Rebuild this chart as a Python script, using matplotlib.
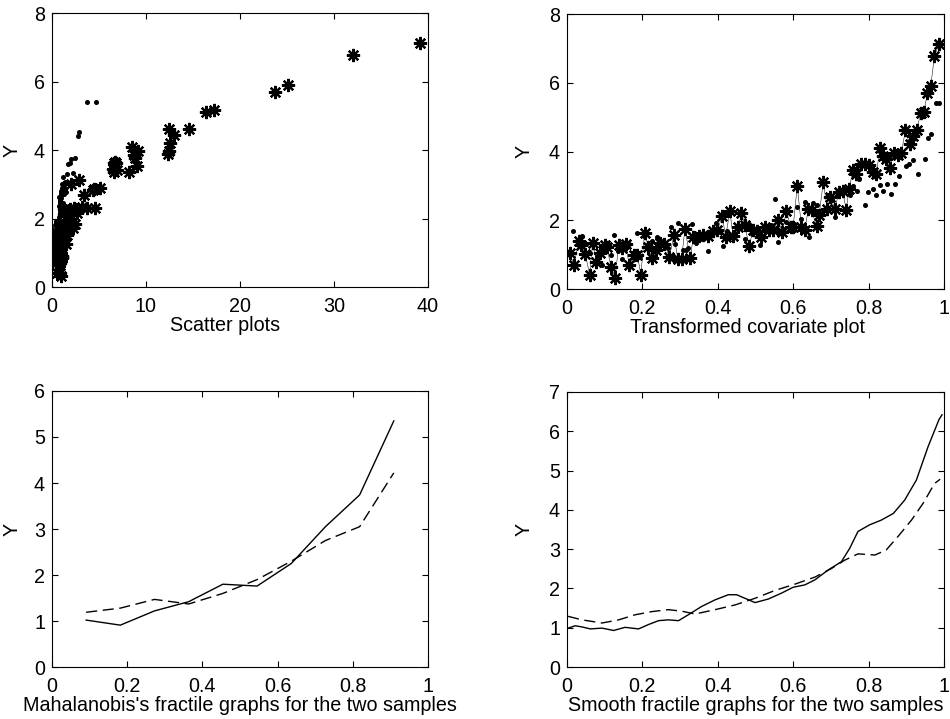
import matplotlib
matplotlib.use("Agg")
import matplotlib.pyplot as plt

plt.rcParams['font.family'] = ['Liberation Sans', 'DejaVu Sans']

# ---- sample 1 (stars): transformed covariate U, response Y, original covariate X
star_u = [0.007,0.019,0.031,0.038,0.049,0.060,0.068,0.078,0.088,0.100,
          0.106,0.117,0.128,0.137,0.146,0.156,0.165,0.179,0.187,0.196,
          0.206,0.216,0.225,0.236,0.247,0.258,0.272,0.284,0.294,0.304,
          0.313,0.327,0.335,0.350,0.362,0.375,0.388,0.399,0.412,0.421,
          0.432,0.441,0.455,0.463,0.472,0.483,0.494,0.505,0.515,0.525,
          0.536,0.547,0.560,0.571,0.582,0.594,0.600,0.611,0.622,0.631,
          0.640,0.649,0.662,0.669,0.680,0.690,0.699,0.711,0.721,0.731,
          0.741,0.748,0.759,0.768,0.781,0.790,0.801,0.812,0.821,0.830,
          0.839,0.847,0.856,0.868,0.878,0.887,0.898,0.909,0.918,0.928,
          0.938,0.947,0.956,0.965,0.975,0.987]
star_y = [1.06,0.69,1.40,1.27,1.01,0.42,1.35,0.79,1.06,1.29,
          1.22,0.64,0.33,1.29,1.20,1.32,0.69,0.98,1.00,0.40,
          1.64,1.22,0.90,1.15,1.34,1.32,0.94,1.58,0.86,0.88,
          1.75,0.90,1.51,1.55,1.56,1.53,1.69,1.71,2.12,1.51,
          2.27,1.53,1.81,2.22,1.85,1.25,1.71,1.68,1.51,1.81,
          1.71,1.71,2.00,1.66,2.27,1.81,1.81,3.00,1.81,1.71,
          2.32,2.29,1.83,2.15,3.12,2.34,2.68,2.32,2.83,2.85,
          2.31,2.90,3.46,3.36,3.63,3.65,3.62,3.41,3.36,4.09,
          3.86,3.77,3.52,3.96,3.89,3.96,4.62,4.21,4.45,4.62,
          5.11,5.16,5.69,5.91,6.78,7.12]
star_x = [0.32,0.38,0.45,0.47,0.52,0.55,0.57,0.61,0.63,0.66,
          0.67,0.71,0.98,0.74,0.77,0.79,0.81,0.83,0.85,0.86,
          0.89,0.91,0.93,0.95,0.96,0.99,1.01,1.03,1.05,1.07,
          1.09,1.11,1.13,1.15,1.17,1.19,1.21,1.24,1.27,1.29,
          1.31,1.34,1.37,1.41,1.45,1.49,1.53,1.57,1.61,1.66,
          1.71,1.76,1.81,1.86,1.91,1.96,2.02,2.07,2.13,2.21,
          2.3,2.4,2.5,2.7,2.9,3.2,3.4,3.7,4.4,4.5,
          4.6,5.1,6.5,6.6,6.6,6.7,6.8,6.9,8.2,8.5,
          8.7,8.8,9.0,9.2,12.3,12.4,12.4,12.6,13.0,14.6,
          16.4,17.2,23.7,25.1,32.0,39.2]

# ---- sample 2 (dots)
dot_u = [0.017,0.028,0.039,0.050,0.062,0.070,0.080,0.092,0.100,0.108,
         0.116,0.125,0.135,0.145,0.155,0.165,0.175,0.185,0.195,0.205,
         0.215,0.225,0.238,0.247,0.258,0.267,0.276,0.286,0.295,0.307,
         0.315,0.322,0.333,0.342,0.352,0.362,0.375,0.385,0.395,0.405,
         0.413,0.425,0.435,0.445,0.455,0.463,0.472,0.482,0.492,0.502,
         0.512,0.522,0.532,0.542,0.552,0.561,0.572,0.582,0.592,0.602,
         0.611,0.621,0.631,0.642,0.652,0.662,0.672,0.682,0.692,0.702,
         0.711,0.720,0.730,0.740,0.750,0.760,0.770,0.775,0.790,0.799,
         0.811,0.820,0.830,0.839,0.850,0.859,0.870,0.881,0.899,0.908,
         0.919,0.930,0.950,0.958,0.966,0.979,0.988]
dot_y = [1.70,1.35,1.54,1.30,1.05,1.28,0.95,0.70,1.20,1.30,
         0.99,1.57,1.10,0.88,1.25,1.30,1.05,1.62,0.95,1.55,
         1.30,1.40,1.50,1.43,1.35,1.20,1.81,1.31,1.93,1.13,
         1.15,1.18,1.88,1.35,1.45,1.55,1.11,1.60,1.91,1.65,
         1.25,1.70,1.55,1.60,1.75,1.80,1.47,1.90,1.60,1.75,
         1.28,1.80,1.70,1.85,2.62,1.38,1.75,1.95,1.90,1.85,
         2.38,2.04,2.54,1.50,2.51,2.45,2.20,2.30,2.75,2.60,
         2.09,2.70,2.80,2.90,2.75,3.00,2.85,3.20,2.44,2.81,
         2.91,2.73,3.03,2.86,3.07,2.76,3.07,3.29,3.59,3.63,
         3.74,3.34,3.77,4.40,4.52,5.40,5.40]
dot_x = [0.02,0.04,0.05,0.06,0.08,0.09,0.10,0.12,0.13,0.14,
         0.15,0.17,0.18,0.19,0.20,0.22,0.23,0.24,0.25,0.27,
         0.28,0.29,0.30,0.32,0.33,0.34,0.35,0.37,0.38,0.39,
         0.40,0.42,0.43,0.44,0.45,0.47,0.48,0.49,0.50,0.52,
         0.53,0.54,0.55,0.57,0.58,0.59,0.60,0.62,0.63,0.64,
         0.65,0.67,0.68,0.69,0.70,0.72,0.73,0.74,0.75,0.77,
         0.78,0.80,0.81,0.83,0.85,0.86,0.88,0.90,0.92,0.94,
         0.96,0.98,1.00,1.02,1.05,1.08,1.10,1.13,1.16,1.20,
         1.24,1.28,1.32,1.36,1.42,1.48,1.55,1.62,1.75,1.90,
         2.05,2.25,2.45,2.75,2.90,3.70,4.70]

# ---- Mahalanobis fractile graphs
mf_x = [0.0909,0.1818,0.2727,0.3636,0.4545,0.5455,0.6364,0.7273,0.8182,0.9091]
mf_solid = [1.02,0.91,1.22,1.42,1.80,1.76,2.25,3.05,3.74,5.35]
mf_dash = [1.19,1.28,1.47,1.37,1.60,1.90,2.30,2.75,3.05,4.22]

# ---- smooth fractile graphs
sf_x_solid = [0.003,0.022,0.040,0.062,0.093,0.124,0.154,0.190,0.216,0.243,
              0.269,0.296,0.322,0.357,0.393,0.428,0.450,0.472,0.499,0.534,
              0.569,0.600,0.631,0.658,0.693,0.728,0.750,0.772,0.803,0.834,
              0.866,0.896,0.927,0.958,0.987,0.995]
sf_solid = [0.99,1.05,1.02,0.97,0.99,0.93,1.01,0.97,1.08,1.18,
            1.20,1.18,1.33,1.54,1.71,1.84,1.84,1.75,1.64,1.73,
            1.88,2.03,2.09,2.22,2.47,2.68,3.02,3.45,3.62,3.74,
            3.91,4.25,4.76,5.61,6.30,6.42]
sf_x_dash = [0.003,0.040,0.093,0.137,0.181,0.225,0.269,0.305,0.340,0.393,
             0.446,0.499,0.552,0.605,0.658,0.702,0.737,0.772,0.817,0.847,
             0.878,0.914,0.945,0.975,0.990]
sf_dash = [1.29,1.20,1.12,1.20,1.33,1.41,1.46,1.42,1.35,1.46,
           1.58,1.75,1.95,2.11,2.29,2.51,2.72,2.88,2.85,2.98,
           3.32,3.74,4.17,4.67,4.78]

FS = 14.2
star_marker = (8, 2, 0)

fig = plt.figure(figsize=(9.5, 7.19), dpi=100)

def style(ax, xlim, ylim, xticks, yticks, xticklabels, xlabel, ylab_x):
    ax.set_xlim(*xlim)
    ax.set_ylim(*ylim)
    ax.set_xticks(xticks)
    ax.set_yticks(yticks)
    ax.set_xticklabels(xticklabels)
    ax.set_yticklabels([str(t) for t in yticks])
    ax.tick_params(direction='in', top=True, right=True, length=4, width=0.8,
                   labelsize=FS)
    ax.tick_params(axis='x', pad=7.5)
    ax.tick_params(axis='y', pad=5)
    for s in ax.spines.values():
        s.set_linewidth(0.8)
    ax.set_xlabel(xlabel, fontsize=FS, labelpad=0)
    ax.set_ylabel('Y', fontsize=FS)
    ax.yaxis.set_label_coords(ylab_x, 0.5)

frac_ticks = [0, 0.2, 0.4, 0.6, 0.8, 1]
frac_labels = ['0', '0.2', '0.4', '0.6', '0.8', '1']

# Top-left
ax1 = fig.add_axes([0.0547, 0.6008, 0.3958, 0.3811])
ax1.plot(dot_x, dot_y, linestyle='none', marker='o', ms=2.6, color='black')
ax1.plot(star_x, star_y, linestyle='none', marker=star_marker, ms=9.5, mew=1.6, color='black')
style(ax1, (0, 40), (0, 8), [0, 10, 20, 30, 40], [0, 2, 4, 6, 8],
      ['0', '10', '20', '30', '40'], 'Scatter plots', -0.082)
ax1.xaxis.label.set_x(0.46)

# Top-right
ax2 = fig.add_axes([0.5968, 0.598, 0.3968, 0.3825])
ax2.plot(dot_u, dot_y, linestyle='none', marker='o', ms=2.6, color='black')
ax2.plot(star_u, star_y, linestyle='-', lw=0.35, color='black')
ax2.plot(star_u, star_y, linestyle='none', marker=star_marker, ms=9.5, mew=1.6, color='black')
style(ax2, (0, 1), (0, 8), frac_ticks, [0, 2, 4, 6, 8], frac_labels,
      'Transformed covariate plot', -0.088)
ax2.xaxis.label.set_x(0.48)

# Bottom-left
ax3 = fig.add_axes([0.0547, 0.0723, 0.3958, 0.3839])
ax3.plot(mf_x, mf_solid, '-', color='black', lw=1.0)
ax3.plot(mf_x, mf_dash, color='black', lw=1.0, dashes=(8, 4))
style(ax3, (0, 1), (0, 6), frac_ticks, [0, 1, 2, 3, 4, 5, 6], frac_labels,
      "Mahalanobis's fractile graphs for the two samples", -0.082)

# Bottom-right
ax4 = fig.add_axes([0.5968, 0.0723, 0.3968, 0.3825])
ax4.plot(sf_x_solid, sf_solid, '-', color='black', lw=1.0)
ax4.plot(sf_x_dash, sf_dash, color='black', lw=1.0, dashes=(8, 4))
style(ax4, (0, 1), (0, 7), frac_ticks, [0, 1, 2, 3, 4, 5, 6, 7], frac_labels,
      'Smooth fractile graphs for the two samples', -0.088)

fig.savefig('out.png', dpi=100)
